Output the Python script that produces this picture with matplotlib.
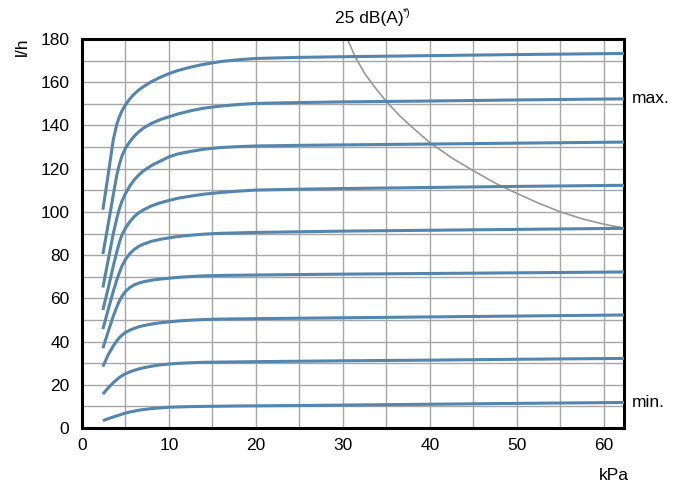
import numpy as np
import matplotlib
matplotlib.use('Agg')
import matplotlib.pyplot as plt

plt.rcParams['font.family'] = ['Liberation Sans', 'DejaVu Sans']

# pressure points (kPa) shared by all flow curves
p = [2.4, 3.0, 3.6, 4.0, 4.3, 4.6, 5.0, 5.5, 6, 6.5, 7, 8, 9, 10, 11, 12.5, 14, 16, 18, 20, 25, 30, 40, 50, 62.3]

# flow curves (l/h), top (max.) to bottom (min.)
q1 = [101, 117, 133.5, 140.5, 144, 146.8, 149.5, 152.3, 154.5, 156.3, 157.8, 160.3, 162.3, 164, 165.4, 167, 168.3, 169.6, 170.4, 171, 171.5, 171.8, 172.3, 172.8, 173.3]
q2 = [80.5, 94, 108, 117, 122, 126, 129.5, 132.5, 135, 137, 138.6, 141, 142.7, 144, 145.3, 146.8, 148, 149, 149.7, 150.2, 150.6, 150.9, 151.3, 151.8, 152.3]
q3 = [65, 77.5, 90, 97, 101.5, 105, 108.5, 112, 114.8, 117, 118.8, 121.5, 123.5, 125.5, 126.8, 128, 129, 129.8, 130.2, 130.5, 130.8, 131, 131.4, 131.8, 132.3]
q4 = [54.6, 64.5, 75, 81.5, 86, 89.5, 92.5, 95.5, 97.8, 99.5, 100.8, 102.8, 104.2, 105.3, 106.3, 107.3, 108.2, 109, 109.6, 110.1, 110.5, 110.8, 111.3, 111.8, 112.3]
q5 = [45.7, 54.6, 63.3, 68.5, 72, 75, 78, 80.7, 82.6, 84, 85, 86.4, 87.3, 88, 88.6, 89.2, 89.7, 90.1, 90.3, 90.5, 90.8, 91.1, 91.5, 91.9, 92.4]
q6 = [36.9, 44.5, 51.8, 56, 58.8, 61, 63.2, 65, 66.2, 67, 67.6, 68.4, 68.9, 69.3, 69.7, 70.1, 70.4, 70.6, 70.7, 70.8, 71, 71.2, 71.5, 71.8, 72.2]
q7 = [28.4, 33.8, 38, 40.3, 41.8, 43, 44.2, 45.3, 46.1, 46.8, 47.3, 48.1, 48.7, 49.1, 49.5, 49.9, 50.2, 50.4, 50.5, 50.6, 50.8, 51, 51.4, 51.8, 52.3]
q8 = [15.7, 18.5, 21, 22.4, 23.4, 24.2, 25.1, 26, 26.7, 27.3, 27.8, 28.6, 29.2, 29.6, 29.9, 30.2, 30.4, 30.5, 30.6, 30.7, 30.9, 31.1, 31.4, 31.8, 32.2]
q9 = [3.4, 4.3, 5.1, 5.6, 6, 6.4, 6.9, 7.4, 7.8, 8.2, 8.5, 9, 9.3, 9.6, 9.75, 9.9, 10, 10.1, 10.2, 10.25, 10.4, 10.6, 11, 11.4, 11.8]
curves = [q1, q2, q3, q4, q5, q6, q7, q8, q9]

# 25 dB(A) noise limit
noise_p = [30.5, 31.4, 32.5, 33.5, 35, 36.5, 38, 40, 42.5, 45, 47.5, 50, 52.5, 55, 57.5, 60, 62.3]
noise_q = [180, 171.8, 164, 158.5, 151, 144.5, 139, 132, 125, 119, 113.3, 108.5, 104, 100, 96.8, 94.3, 92.5]

fig = plt.figure(figsize=(6.75, 4.87), dpi=100)
ax = fig.add_axes([82/675, 59/487, 542/675, 389/487])

ax.set_xlim(0, 62.3)
ax.set_ylim(0, 180)
ax.set_xticks(np.arange(0, 61, 5), minor=True)
ax.set_yticks(np.arange(0, 181, 10), minor=True)
ax.set_xticks(np.arange(0, 61, 10))
ax.set_yticks(np.arange(0, 181, 20))
ax.grid(True, which='both', color='#a6a6a6', linewidth=1.0)
ax.set_axisbelow(True)
ax.tick_params(which='both', length=0, labelsize=12.5)
ax.tick_params(axis='x', pad=7)
ax.tick_params(axis='y', pad=9)
for s in ax.spines.values():
    s.set_linewidth(2.2)
    s.set_color('black')

for q in curves:
    ax.plot(p, q, color='#5385ad', linewidth=2.2, solid_capstyle='butt', zorder=3)

ax.plot(noise_p, noise_q, color='#999999', linewidth=1.2, zorder=2)

ax.text(1.015, q2[-1], 'max.', transform=ax.get_yaxis_transform(), va='center', ha='left', fontsize=12.5)
ax.text(1.015, q9[-1], 'min.', transform=ax.get_yaxis_transform(), va='center', ha='left', fontsize=12.5)

fig.text(22/675, 1 - 47/487, 'l/h', rotation=90, ha='center', va='center', fontsize=12.5)
fig.text(614/675, 1 - 476/487, 'kPa', ha='center', va='center', fontsize=12.5)
fig.text(369/675, 1 - 19/487, '25 dB(A)', ha='center', va='center', fontsize=12.5)
fig.text(403/675, 1 - 13/487, '*)', ha='left', va='center', fontsize=7.5)

fig.savefig('out.png', dpi=100)
